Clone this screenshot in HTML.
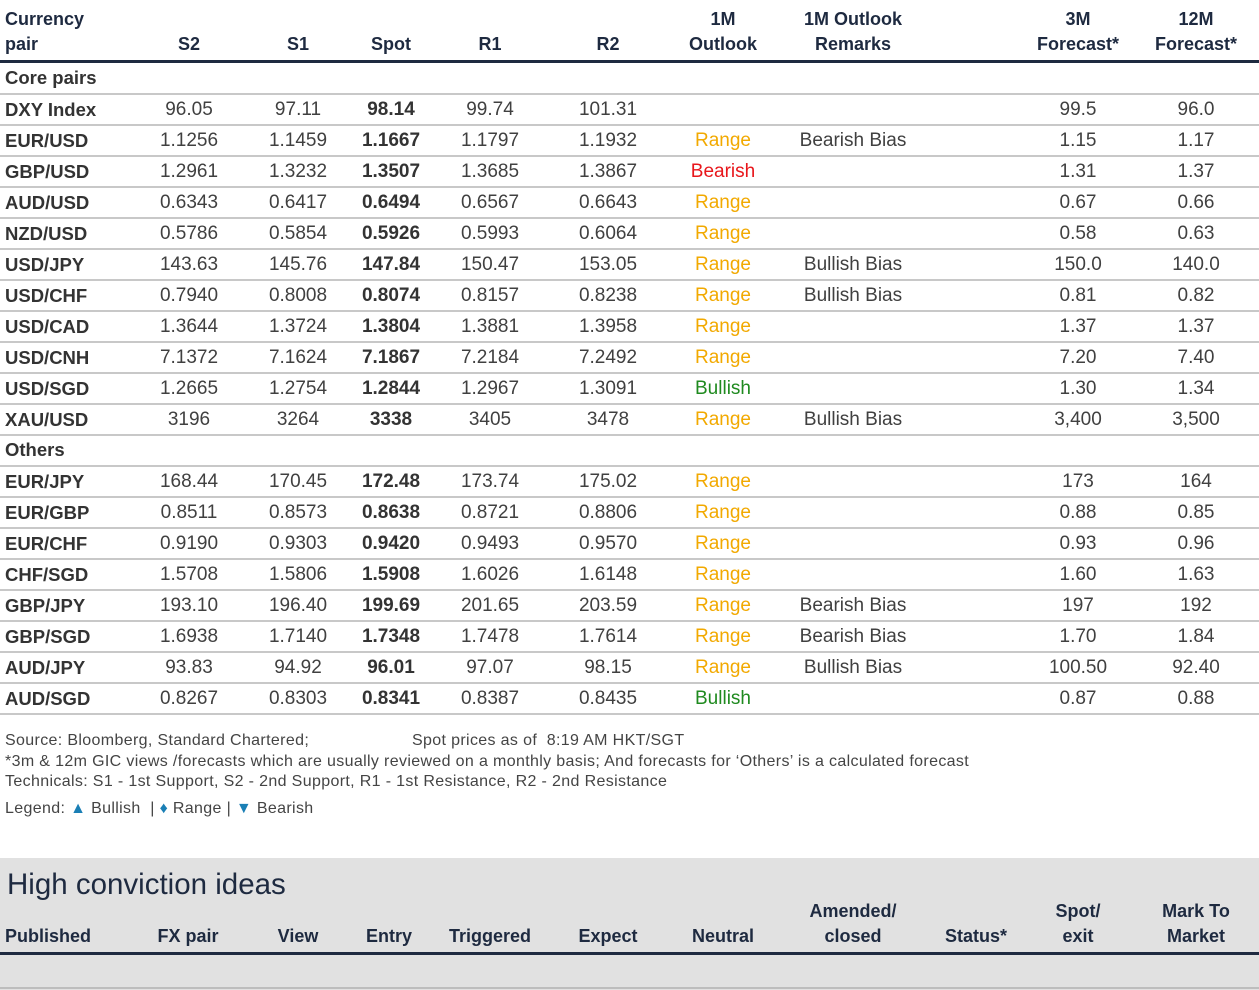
<!DOCTYPE html>
<html><head><meta charset="utf-8"><style>
body{margin:0;width:1259px;height:990px;background:#fff;position:relative;overflow:hidden;font-family:"Liberation Sans",Arial,sans-serif;color:#404040}
.a{position:absolute;white-space:nowrap}
.h{font-weight:bold;color:#1e2a40;font-size:18px;text-align:center;line-height:25px}
.c{transform:translateX(-50%);font-size:19px}
.l{font-size:18.5px;font-weight:bold;color:#333}
.sep{position:absolute;left:0;width:1259px;height:2px;background:#c8c8c8}
.ft{font-size:16px;letter-spacing:0.35px;color:#444}
</style></head><body>
<div id="root"></div>
<script>
const pairs=["DXY Index","EUR/USD","GBP/USD","AUD/USD","NZD/USD","USD/JPY","USD/CHF","USD/CAD","USD/CNH","USD/SGD","XAU/USD","EUR/JPY","EUR/GBP","EUR/CHF","CHF/SGD","GBP/JPY","GBP/SGD","AUD/JPY","AUD/SGD"];
const s2=["96.05","1.1256","1.2961","0.6343","0.5786","143.63","0.7940","1.3644","7.1372","1.2665","3196","168.44","0.8511","0.9190","1.5708","193.10","1.6938","93.83","0.8267"];
const s1=["97.11","1.1459","1.3232","0.6417","0.5854","145.76","0.8008","1.3724","7.1624","1.2754","3264","170.45","0.8573","0.9303","1.5806","196.40","1.7140","94.92","0.8303"];
const spot=["98.14","1.1667","1.3507","0.6494","0.5926","147.84","0.8074","1.3804","7.1867","1.2844","3338","172.48","0.8638","0.9420","1.5908","199.69","1.7348","96.01","0.8341"];
const r1=["99.74","1.1797","1.3685","0.6567","0.5993","150.47","0.8157","1.3881","7.2184","1.2967","3405","173.74","0.8721","0.9493","1.6026","201.65","1.7478","97.07","0.8387"];
const r2=["101.31","1.1932","1.3867","0.6643","0.6064","153.05","0.8238","1.3958","7.2492","1.3091","3478","175.02","0.8806","0.9570","1.6148","203.59","1.7614","98.15","0.8435"];
const outlook=["","Range","Bearish","Range","Range","Range","Range","Range","Range","Bullish","Range","Range","Range","Range","Range","Range","Range","Range","Bullish"];
const remarks=["","Bearish Bias","","","","Bullish Bias","Bullish Bias","","","","Bullish Bias","","","","","Bearish Bias","Bearish Bias","Bullish Bias",""];
const f3=["99.5","1.15","1.31","0.67","0.58","150.0","0.81","1.37","7.20","1.30","3,400","173","0.88","0.93","1.60","197","1.70","100.50","0.87"];
const f12=["96.0","1.17","1.37","0.66","0.63","140.0","0.82","1.37","7.40","1.34","3,500","164","0.85","0.96","1.63","192","1.84","92.40","0.88"];
const colX=[189,298,391,490,608,723,853,1078,1196];
const root=document.getElementById('root');
function add(cls,x,y,txt,st){const d=document.createElement('div');d.className='a '+cls;d.style.left=x+'px';d.style.top=y+'px';d.textContent=txt;if(st)d.style.cssText+=st;root.appendChild(d);return d;}
let e=add('h',5,7,'Currency','text-align:left');


e=add('h',5,32,'pair','text-align:left');


const hdr=[["S2"],["S1"],["Spot"],["R1"],["R2"],["1M","Outlook"],["1M Outlook","Remarks"],["3M","Forecast*"],["12M","Forecast*"]];
hdr.forEach((h,i)=>{const lines=h.length==1?['',h[0]]:h;lines.forEach((t,j)=>{if(!t)return;const d=add('h c',colX[i],7+j*25,t,'font-size:18px');

});});
let ln=document.createElement('div');ln.style.cssText='position:absolute;left:0;top:60px;width:1259px;height:3px;background:#1e2a40';root.appendChild(ln);


const colors={Range:'#f2a900',Bearish:'#e8161b',Bullish:'#1f8a1f'};
function rowY(k){return 78+k*31;}
function section(name,k){const d=add('l',5,rowY(k)-11,name);


const s=document.createElement('div');s.className='sep';s.style.top=(rowY(k)+15)+'px';root.appendChild(s);}
section('Core pairs',0);
pairs.forEach((p,i)=>{const k=i<11?i+1:i+2;const y=rowY(k)-10;
const r=add('l',5,y,p);


const vals=[s2[i],s1[i],spot[i],r1[i],r2[i],outlook[i],remarks[i],f3[i],f12[i]];
vals.forEach((v,j)=>{if(!v)return;const d=add('c',colX[j],y,v);
if(j==2){d.style.fontWeight='bold';d.style.color='#333';}
if(j==5)d.style.color=colors[v];

});
const s=document.createElement('div');s.className='sep';s.style.top=(rowY(k)+15)+'px';root.appendChild(s);
if(i==10)section('Others',12);});
</script>
<div class="a ft" style="left:5px;top:732px">Source: Bloomberg, Standard Chartered;</div>
<div class="a ft" style="left:412px;top:732px">Spot prices as of &nbsp;8:19 AM HKT/SGT</div>
<div class="a ft" style="left:5px;top:753px">*3m &amp; 12m GIC views /forecasts which are usually reviewed on a monthly basis; And forecasts for ‘Others’ is a calculated forecast</div>
<div class="a ft" style="left:5px;top:773px">Technicals: S1 - 1st Support, S2 - 2nd Support, R1 - 1st Resistance, R2 - 2nd Resistance</div>
<div class="a ft" style="left:5px;top:800px">Legend: <span style="color:#1a7fb5">▲</span> Bullish &nbsp;| <span style="color:#1a7fb5">♦</span> Range | <span style="color:#1a7fb5">▼</span> Bearish</div>
<div class="a" style="left:0;top:858px;width:1259px;height:132px;background:#e1e1e1">
<div class="a" style="left:7px;top:10px;font-size:29.5px;color:#1e2a40">High conviction ideas</div>
<div class="a h" style="left:5px;top:66px;text-align:left">Published</div>
<div class="a h c" style="left:188px;top:66px;font-size:18px">FX pair</div>
<div class="a h c" style="left:298px;top:66px;font-size:18px">View</div>
<div class="a h c" style="left:389px;top:66px;font-size:18px">Entry</div>
<div class="a h c" style="left:490px;top:66px;font-size:18px">Triggered</div>
<div class="a h c" style="left:608px;top:66px;font-size:18px">Expect</div>
<div class="a h c" style="left:723px;top:66px;font-size:18px">Neutral</div>
<div class="a h c" style="left:853px;top:41px;font-size:18px">Amended/<br>closed</div>
<div class="a h c" style="left:976px;top:66px;font-size:18px">Status*</div>
<div class="a h c" style="left:1078px;top:41px;font-size:18px">Spot/<br>exit</div>
<div class="a h c" style="left:1196px;top:41px;font-size:18px">Mark To<br>Market</div>
<div class="a" style="left:0;top:94px;width:1259px;height:3px;background:#1e2a40"></div>
<div class="a" style="left:0;top:129px;width:1259px;height:2px;background:#bdbdbd"></div>
</div>
</body></html>
